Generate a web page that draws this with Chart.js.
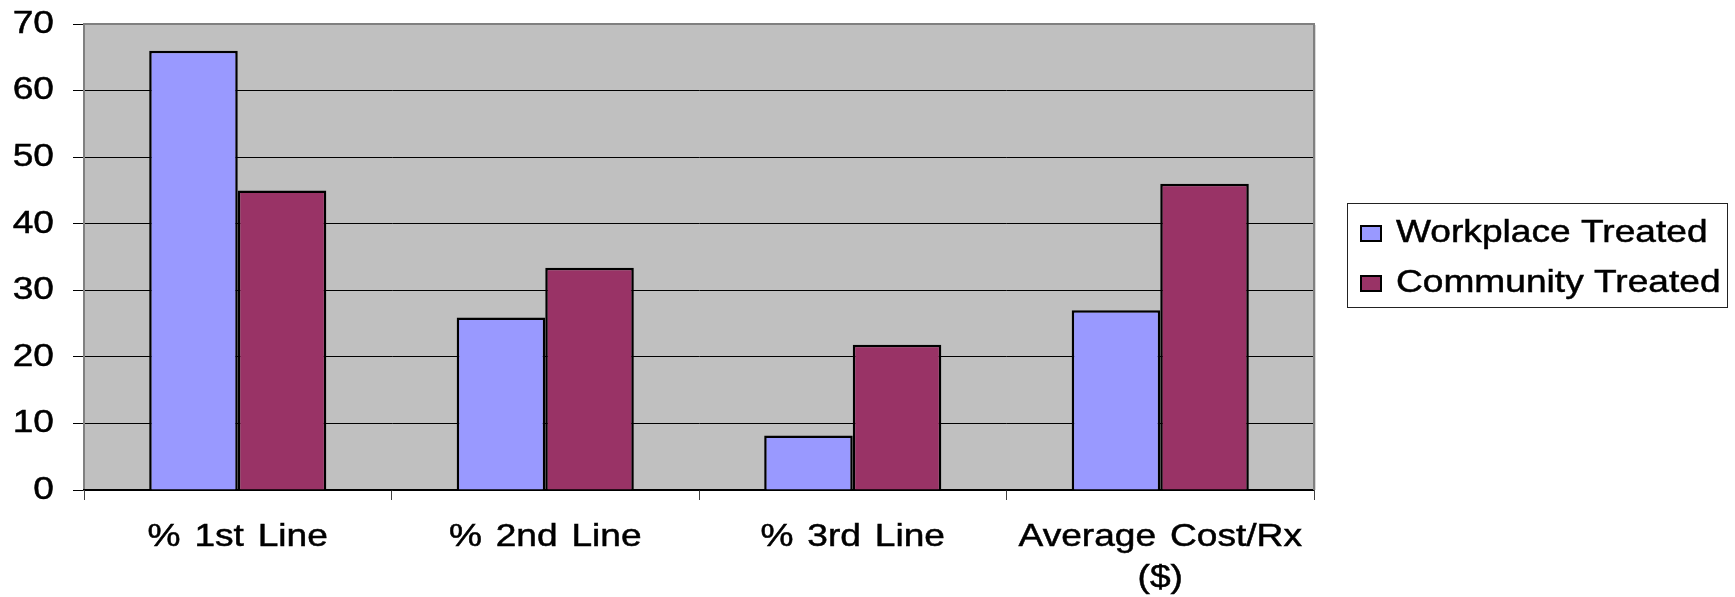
<!DOCTYPE html>
<html>
<head>
<meta charset="utf-8">
<script src="https://cdn.jsdelivr.net/npm/chart.js@4/dist/chart.umd.min.js"></script>
<style>
  html, body { margin: 0; padding: 0; background: #ffffff; }
  #wrap { width: 1735px; height: 597px; position: relative; }
</style>
</head>
<body>
<div id="wrap"><canvas id="chart"></canvas></div>
<script>
// Categories along the x axis (the last one wraps onto two lines)
const categories = ['% 1st Line', '% 2nd Line', '% 3rd Line', ['Average Cost/Rx', '($)']];

// Series values
const workplaceTreated = [66.0, 25.9, 8.2, 27.0];
const communityTreated = [45.0, 33.4, 21.8, 46.0];

// Series names and fills
const seriesNames = ['Workplace Treated', 'Community Treated'];
const seriesColors = ['#9999FF', '#993366'];

// Value axis tick labels
const yTickValues = [0, 10, 20, 30, 40, 50, 60, 70];

const FONT = "'Liberation Sans', Arial, sans-serif";
const TEXT_STRETCH = 1.16;   // wide, horizontally stretched lettering

const canvas = document.getElementById('chart');
const context = canvas.getContext('2d');

// Draw every text run slightly widened (and a touch heavier) around its anchor point
const rawFillText = context.fillText;
context.fillText = function (text, x, y, maxWidth) {
  this.save();
  this.translate(x, y);
  this.scale(TEXT_STRETCH, 1);
  rawFillText.call(this, text, 0, 0);
  this.strokeStyle = this.fillStyle;
  this.lineWidth = 0.5;
  this.strokeText(text, 0, 0);
  this.restore();
};

// Grey plot background, plot frame and the boxed legend on the right
const frameAndLegend = {
  id: 'frameAndLegend',
  beforeDraw(chart) {
    const { ctx, chartArea: a } = chart;
    ctx.wordSpacing = '3px';
    ctx.save();
    ctx.fillStyle = '#C0C0C0';
    ctx.fillRect(a.left, a.top, a.right - a.left, a.bottom - a.top);
    ctx.restore();
  },
  afterDatasetsDraw(chart) {
    const { ctx, chartArea: a } = chart;
    ctx.save();
    ctx.strokeStyle = '#808080';
    ctx.lineWidth = 2;
    ctx.beginPath();
    ctx.moveTo(a.left, a.top);
    ctx.lineTo(a.right, a.top);
    ctx.lineTo(a.right, a.bottom);
    ctx.stroke();
    ctx.strokeStyle = '#d8d8d8';
    ctx.lineWidth = 1;
    ctx.beginPath();
    ctx.moveTo(a.right + 1.5, a.top + 1);
    ctx.lineTo(a.right + 1.5, a.bottom);
    ctx.stroke();
    ctx.restore();
  },
  afterDraw(chart) {
    const { ctx } = chart;
    ctx.save();
    // legend box
    ctx.strokeStyle = '#222';
    ctx.lineWidth = 1;
    ctx.strokeRect(1347.5, 203.5, 380, 104);
    ctx.font = '32px ' + FONT;
    ctx.wordSpacing = '0px';
    ctx.textAlign = 'left';
    ctx.textBaseline = 'alphabetic';
    chart.data.datasets.forEach((ds, i) => {
      const base = 242 + i * 50;
      ctx.fillStyle = ds.backgroundColor;
      ctx.fillRect(1360, base - 17, 22, 17);
      ctx.strokeStyle = '#000';
      ctx.lineWidth = 2;
      ctx.strokeRect(1361, base - 16, 20, 15);
      ctx.fillStyle = '#000';
      ctx.fillText(ds.label, 1396, base);
    });
    ctx.restore();
  }
};

new Chart(canvas, {
  type: 'bar',
  data: {
    labels: categories,
    datasets: [
      {
        label: seriesNames[0],
        data: workplaceTreated,
        backgroundColor: seriesColors[0],
        borderColor: '#000000',
        borderWidth: 2.5,
        barPercentage: 1.0,
        categoryPercentage: 0.576
      },
      {
        label: seriesNames[1],
        data: communityTreated,
        backgroundColor: seriesColors[1],
        borderColor: '#000000',
        borderWidth: 2.5,
        barPercentage: 1.0,
        categoryPercentage: 0.576
      }
    ]
  },
  options: {
    responsive: true,
    maintainAspectRatio: false,
    animation: false,
    devicePixelRatio: 1,
    layout: { padding: { left: 0, top: 24, right: 421, bottom: 0 } },
    scales: {
      y: {
        min: 0,
        max: 70,
        afterBuildTicks(scale) {
          scale.ticks = yTickValues.map(v => ({ value: v }));
        },
        afterFit(scale) {
          scale.width = 84;
          scale.paddingTop = 0;
          scale.paddingBottom = 0;
        },
        ticks: {
          color: '#000000',
          font: { family: FONT, size: 32 },
          padding: 19
        },
        grid: {
          color: '#000000',
          lineWidth: 1,
          tickLength: 11,
          tickColor: '#000000'
        },
        border: { display: true, color: '#808080', width: 2 }
      },
      x: {
        afterFit(scale) { scale.height = 107; },
        ticks: {
          color: '#000000',
          font: { family: FONT, size: 32, lineHeight: 1.28 },
          padding: 17,
          maxRotation: 0,
          autoSkip: false
        },
        grid: {
          display: true,
          drawOnChartArea: false,
          drawTicks: true,
          tickLength: 10,
          tickColor: '#404040',
          offset: true
        },
        border: { display: true, color: '#000000', width: 1.5 }
      }
    },
    plugins: {
      legend: { display: false },
      tooltip: { enabled: false }
    }
  },
  plugins: [frameAndLegend]
});
</script>
</body>
</html>
